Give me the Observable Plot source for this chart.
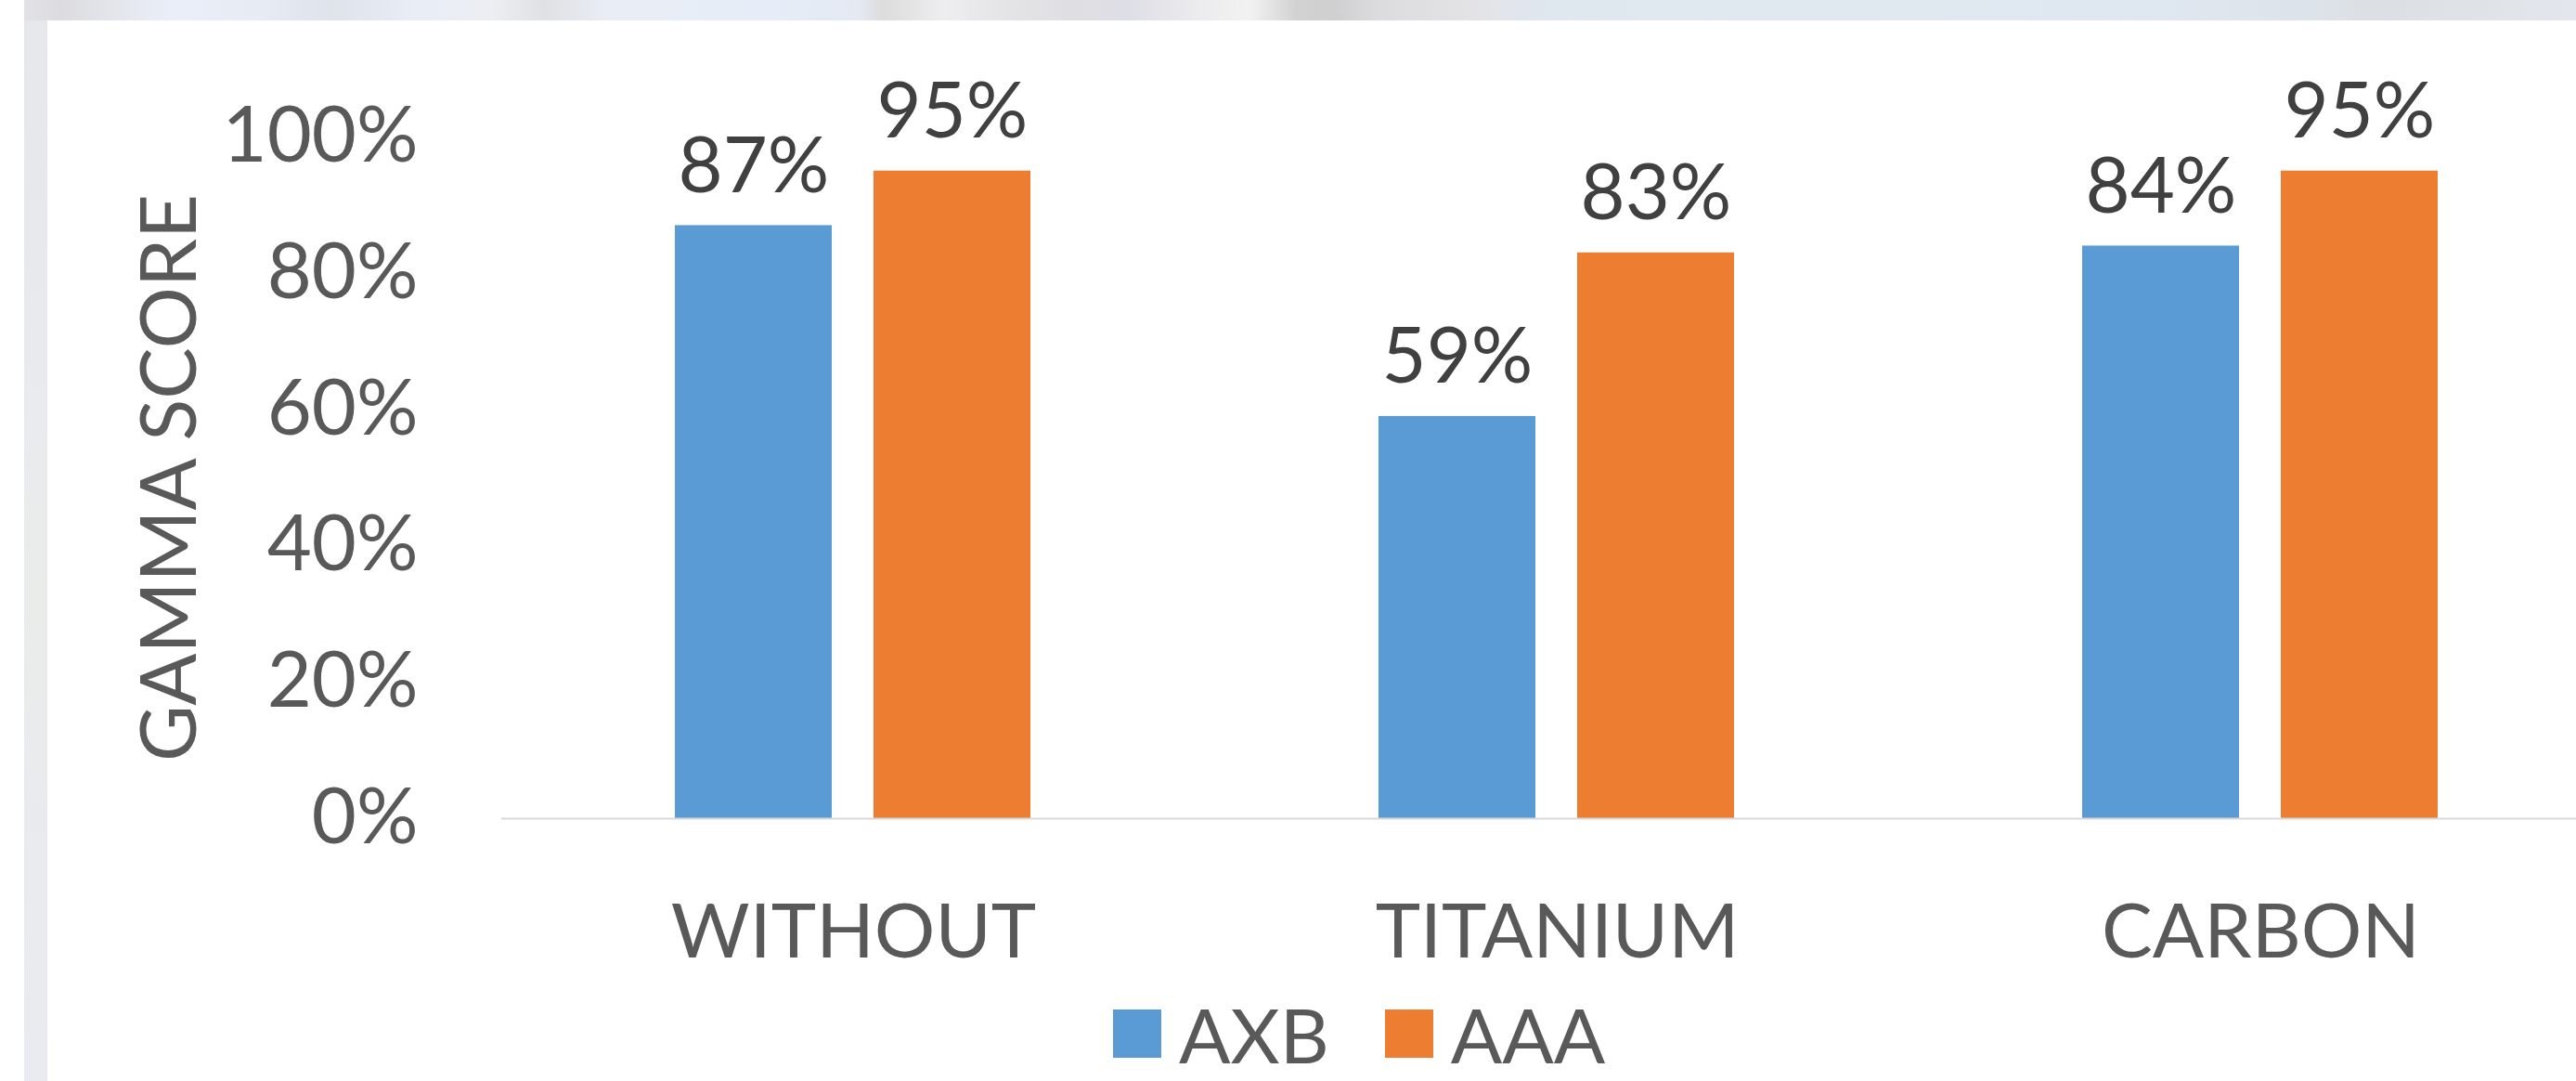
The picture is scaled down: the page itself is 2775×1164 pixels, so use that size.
<!DOCTYPE html>
<html>
<head>
<meta charset="utf-8">
<script src="https://cdn.jsdelivr.net/npm/d3@7"></script>
<script src="https://cdn.jsdelivr.net/npm/@observablehq/plot@0.6"></script>
<style>
  html, body { margin: 0; padding: 0; width: 2775px; height: 1164px; overflow: hidden; background: #ffffff; }
  #chart { position: absolute; left: 0; top: 0; width: 2815px; }
  #chart svg { max-width: none !important; display: block; }
  #edge-left { position: absolute; left: 26px; top: 0; width: 25px; height: 1164px; z-index: 2;
    background: linear-gradient(180deg, #e6e7eb 0%, #e9eaee 35%, #eaecea 55%, #e8eaed 75%, #e9ebf0 100%); }
  #edge-top { position: absolute; left: 26px; top: 0; width: 2749px; height: 22px; z-index: 2;
    background: linear-gradient(90deg,
      #e2e2e6 0px, #dcdce0 40px, #e4e6ec 98px, #e9eef8 160px, #e6ebf4 260px, #dfe3ea 330px,
      #e8edf6 420px, #eceef2 504px, #e0e1e4 560px, #e9edf5 629px, #e6edf8 800px,
      #e4e9f2 900px, #dcdcdc 925px, #eeeef0 990px, #e4e4e6 1060px, #dfdfe3 1130px,
      #dedee6 1190px, #ebebee 1260px, #f2f2f2 1320px, #d2d2d3 1370px, #cfcfd0 1410px,
      #dcdcdf 1460px, #e3e3e6 1560px, #dfe7ef 1640px, #e0e8f0 1900px, #dfe7f0 2300px,
      #dde3ea 2452px, #dcdfe3 2550px, #e3e6ec 2749px); }
  .key-swatches { font-family: Lato, sans-serif; font-size: 82px; color: #595959; margin: 0 0 0 1199px; line-height: normal; }
  .key-swatch > svg { margin-right: 19px; }
  .key-swatches-wrap .key-swatch { margin-right: 60px; }
</style>
</head>
<body>
<div id="edge-left"></div>
<div id="edge-top"></div>
<div id="chart"></div>
<script>
// Gamma score per shielding condition, for the two evaluated algorithms
const categories = ["WITHOUT", "TITANIUM", "CARBON"];
const seriesNames = ["AXB", "AAA"];
const seriesColors = ["#5B9BD5", "#ED7D31"];
const axbValues = [0.87, 0.59, 0.84];
const aaaValues = [0.95, 0.83, 0.95];
const yTickValues = [0, 0.2, 0.4, 0.6, 0.8, 1.0];
const yTitle = "GAMMA SCORE";

const rows = categories.flatMap((category, i) => [
  {category, series: seriesNames[0], value: axbValues[i]},
  {category, series: seriesNames[1], value: aaaValues[i]}
]);

const pct = d3.format(".0%");

const chart = Plot.plot({
  width: 2815,
  height: 1064,
  marginLeft: 539,
  marginRight: 0,
  marginTop: 147,
  marginBottom: 183,
  style: {fontFamily: "Lato, sans-serif", background: "transparent", overflow: "visible"},
  fx: {domain: categories, padding: 0, label: null},
  x: {domain: seriesNames, paddingInner: 0.2093, paddingOuter: 0.8695, axis: null},
  y: {domain: [0, 1]},
  color: {domain: seriesNames, range: seriesColors},
  marks: [
    Plot.axisY({
      ticks: yTickValues,
      tickFormat: pct,
      tickSize: 0,
      tickPadding: 90,
      fontSize: 83,
      color: "#595959",
      label: yTitle,
      labelAnchor: "center",
      labelArrow: "none",
      labelOffset: 388
    }),
    Plot.axisFx({anchor: "bottom", tickSize: 0, tickPadding: 91, fontSize: 82, color: "#595959", label: null}),
    Plot.barY(rows, {fx: "category", x: "series", y: "value", fill: "series"}),
    Plot.ruleY([0], {stroke: "#D9D9D9", strokeWidth: 2}),
    Plot.text(rows, {
      fx: "category",
      x: "series",
      y: "value",
      text: d => pct(d.value),
      lineAnchor: "bottom",
      dy: -36,
      fontSize: 83,
      fill: "#404040"
    })
  ]
});

const key = Plot.legend({
  color: {domain: seriesNames, range: seriesColors},
  legend: "swatches",
  swatchSize: 52,
  className: "key"
});

const host = document.getElementById("chart");
host.appendChild(chart);
host.appendChild(key);
</script>
</body>
</html>
